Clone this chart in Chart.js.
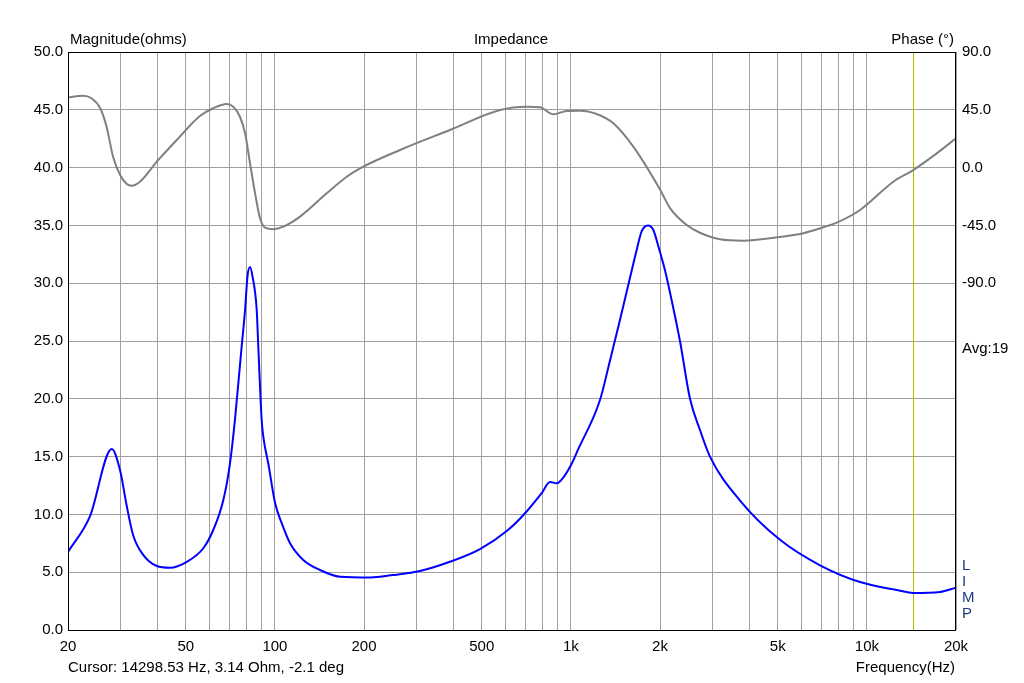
<!DOCTYPE html>
<html>
<head>
<meta charset="utf-8">
<script src="https://cdn.jsdelivr.net/npm/chart.js@4/dist/chart.umd.min.js"></script>
<style>
  body { margin: 0; background: #fff; }
  canvas { display: block; }
</style>
</head>
<body>
<canvas id="chart" width="1024" height="683"></canvas>
<script>
'use strict';

// Magnitude curve (blue)
let magFreq = [20, 23.7, 28.1, 30.0, 31.6, 33.2, 35.9, 39.9, 44.2, 50.4, 57.3, 61.9, 66.9, 70.5, 73.3, 77.2, 79.3, 80.8, 82.4,
  84.0, 86.8, 87.9, 90.2, 91.4, 95.0, 100.1, 105.4, 112.5, 124.7, 142, 166, 210, 250, 309, 390, 493, 613, 700, 797, 850, 896,
  943, 1007, 1057, 1254, 1355, 1464, 1605, 1669, 1735, 1822, 1899, 1974, 2080, 2128, 2336, 2526, 2730, 2950, 3727,
  5088, 6945, 9482, 12942, 14298, 17664, 20000];
let magOhms = [6.75, 9.8, 15.66, 13.8, 10.7, 8.2, 6.5, 5.54, 5.39, 5.9, 7.07, 8.65, 11.2, 14.4, 18.2, 24.5, 27.7, 30.6, 31.4,
  30.6, 27.7, 24.5, 18.2, 16.7, 14.4, 11.0, 9.26, 7.5, 6.06, 5.19, 4.61, 4.55, 4.75, 5.1, 5.9, 7.0, 8.65, 10.1, 11.85, 12.8, 12.7,
  13.2, 14.4, 15.6, 19.9, 23.3, 26.8, 31.1, 32.9, 34.5, 35.0, 34.6, 33.2, 31.1, 30.0, 25.0, 20.0, 17.3, 15.0, 11.2,
  7.8, 5.6, 4.15, 3.4, 3.2, 3.29, 3.66];

// Phase curve (gray), right axis
let phaseFreq = [20, 22.5, 24.0, 25.7, 27.0, 28.4, 30.0, 31.6, 32.8, 35.0, 39.9, 46.6, 55.8, 61.9, 68.7, 72.3, 76.2, 79.3,
  82.4, 85.7, 89.1, 92.6, 98.8, 106.8, 121.6, 149.6, 174.9, 193.9, 264.7, 390.4, 576, 709, 786, 872, 968, 1073, 1222,
  1391, 1625, 2000, 2162, 2462, 2730, 3189, 3824, 4960, 6098, 7124, 7907, 9482, 12282, 14298, 17216, 20000];
let phaseDeg = [54.7, 56.0, 54.0, 46.2, 31.8, 8.5, -5.8, -12.8, -14.1, -11.0, 4.6, 21.5, 40.2, 46.2, 49.5, 47.4, 39.6, 26.7,
  3.4, -20.0, -39.5, -46.8, -48.0, -46.0, -38.2, -20.0, -7.1, -0.6, 13.7, 29.3, 44.8, 47.4, 47.0, 41.5, 44.1, 44.3, 41.7,
  34.5, 16.3, -17.0, -31.5, -44.7, -50.7, -55.8, -56.9, -54.3, -51.1, -46.5, -42.9, -33.0, -11.0, -2.1, 11.1, 22.8];

// Axis ticks
let gridFreqs = [20, 30, 40, 50, 60, 70, 80, 90, 100, 200, 300, 400, 500, 600, 700, 800, 900,
  1000, 2000, 3000, 4000, 5000, 6000, 7000, 8000, 9000, 10000, 20000];
let freqLabels = { 20: '20', 50: '50', 100: '100', 200: '200', 500: '500', 1000: '1k', 2000: '2k',
  5000: '5k', 10000: '10k', 20000: '20k' };
let phaseLabels = [90, 45, 0, -45, -90];
let cursorFreq = 14298.53;

const FONT = '"Liberation Sans", Arial, sans-serif';

function toPoints(xs, ys) {
  return xs.map((x, i) => ({ x: x, y: ys[i] }));
}

// texts, border and cursor line
const decorations = {
  id: 'decorations',
  beforeDatasetsDraw(chart) {
    const ctx = chart.ctx;
    const area = chart.chartArea;
    const cx = chart.scales.x.getPixelForValue(cursorFreq);
    ctx.save();
    ctx.strokeStyle = '#b8b800';
    ctx.lineWidth = 1;
    ctx.beginPath();
    ctx.moveTo(Math.round(cx) + 0.5, area.top);
    ctx.lineTo(Math.round(cx) + 0.5, area.bottom);
    ctx.stroke();
    ctx.restore();
  },
  afterDraw(chart) {
    const ctx = chart.ctx;
    const area = chart.chartArea;
    ctx.save();
    ctx.strokeStyle = '#000';
    ctx.lineWidth = 1;
    ctx.strokeRect(area.left + 0.5, area.top + 0.5, area.right - area.left - 1, area.bottom - area.top);

    ctx.font = '15px ' + FONT;
    ctx.fillStyle = '#000';
    ctx.textBaseline = 'middle';
    ctx.textAlign = 'left';
    ctx.fillText('Magnitude(ohms)', 70, 40);
    ctx.textAlign = 'center';
    ctx.fillText('Impedance', 511, 40);
    ctx.textAlign = 'right';
    ctx.fillText('Phase (°)', 954, 40);

    ctx.textAlign = 'left';
    ctx.fillText('Avg:19', 962, 349);
    ctx.fillText('Cursor: 14298.53 Hz, 3.14 Ohm, -2.1 deg', 68, 668);
    ctx.textAlign = 'right';
    ctx.fillText('Frequency(Hz)', 955, 668);

    ctx.fillStyle = '#1c3c80';
    ctx.textAlign = 'left';
    ['L', 'I', 'M', 'P'].forEach((ch, i) => {
      ctx.fillText(ch, 962, 566 + i * 16);
    });
    ctx.restore();
  }
};

const ctx = document.getElementById('chart').getContext('2d');
const chart = new Chart(ctx, {
  type: 'line',
  data: {
    datasets: [{
      label: 'Phase',
      data: toPoints(phaseFreq, phaseDeg),
      yAxisID: 'y2',
      borderColor: '#808080',
      borderWidth: 2,
      pointRadius: 0,
      cubicInterpolationMode: 'monotone',
      fill: false
    },
    {
      label: 'Magnitude',
      data: toPoints(magFreq, magOhms),
      yAxisID: 'y',
      borderColor: '#0000ff',
      borderWidth: 2,
      pointRadius: 0,
      cubicInterpolationMode: 'monotone',
      fill: false
    }]
  },
  options: {
    responsive: false,
    animation: false,
    layout: { padding: { top: 52, left: 0, right: 0, bottom: 0 } },
    plugins: {
      legend: { display: false },
      tooltip: { enabled: false }
    },
    scales: {
      x: {
        type: 'logarithmic',
        min: 20,
        max: 20000,
        afterBuildTicks: s => { s.ticks = gridFreqs.map(v => ({ value: v })); },
        afterFit: s => { s.height = 53; },
        grid: { color: '#a0a0a0', drawTicks: false },
        border: { display: false },
        ticks: {
          autoSkip: false,
          maxRotation: 0,
          padding: 8,
          color: '#000',
          font: { family: FONT, size: 15 },
          callback: v => freqLabels[v] || ''
        }
      },
      y: {
        position: 'left',
        min: 0,
        max: 50,
        afterFit: s => { s.width = 68; },
        grid: { color: '#a0a0a0', drawTicks: false },
        border: { display: false },
        ticks: {
          stepSize: 5,
          padding: 5,
          color: '#000',
          font: { family: FONT, size: 15 },
          callback: v => v.toFixed(1)
        }
      },
      y2: {
        position: 'right',
        min: -360,
        max: 90,
        afterFit: s => { s.width = 68; },
        grid: { display: false, drawTicks: false },
        border: { display: false },
        ticks: {
          stepSize: 45,
          padding: 6,
          color: '#000',
          font: { family: FONT, size: 15 },
          callback: v => phaseLabels.includes(v) ? v.toFixed(1) : ''
        }
      }
    }
  },
  plugins: [decorations]
});
</script>
</body>
</html>
